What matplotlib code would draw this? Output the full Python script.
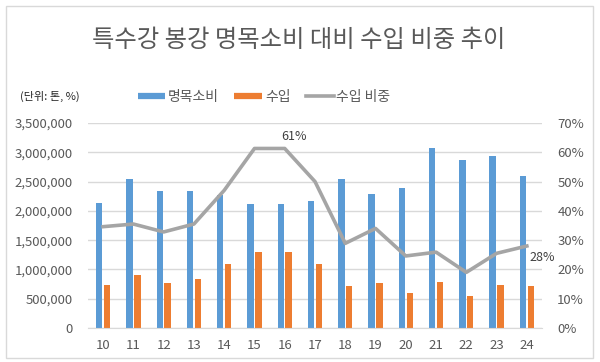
import numpy as np
import matplotlib
matplotlib.use("Agg")
import matplotlib.pyplot as plt
from matplotlib.lines import Line2D
from matplotlib.patches import Rectangle
from matplotlib.ticker import FuncFormatter

plt.rcParams['font.family'] = ['Noto Sans CJK KR', 'DejaVu Sans']

years = ['10', '11', '12', '13', '14', '15', '16', '17', '18', '19', '20', '21', '22', '23', '24']
consumption = [2140000, 2550000, 2340000, 2340000, 2270000, 2110000, 2110000, 2170000,
               2545000, 2295000, 2390000, 3075000, 2865000, 2930000, 2595000]
imports = [740000, 905000, 775000, 838000, 1093000, 1292000, 1292000, 1098000,
           722000, 774000, 592000, 790000, 552000, 739000, 722000]
share = [34.6, 35.5, 32.8, 35.5, 47.0, 61.3, 61.3, 50.0,
         28.9, 34.0, 24.6, 25.9, 19.0, 25.5, 28.0]

blue = '#5B9BD5'
orange = '#ED7D31'
gray = '#A5A5A5'
txt = '#595959'

fig = plt.figure(figsize=(6.0, 3.62), dpi=100)
fig.patches.append(Rectangle((6/600, 1-358/362), 587/600, 352/362, transform=fig.transFigure,
                             fill=False, edgecolor='#D9D9D9', linewidth=1))

ax = fig.add_axes([88/600, 1-328/362, 454/600, 205/362])
x = np.arange(len(years))
w = 0.21
ax.bar(x - 0.13, consumption, w, color=blue, zorder=2)
ax.bar(x + 0.13, imports, w, color=orange, zorder=2)
ax.set_ylim(0, 3500000)
ax.set_yticks(np.arange(0, 3500001, 500000))
ax.yaxis.set_major_formatter(FuncFormatter(lambda v, p: f'{int(v):,}'))
ax.set_xlim(-0.5, len(years) - 0.5)
ax.set_xticks(x)
ax.set_xticklabels(years)
ax.grid(axis='y', color='#D9D9D9', linewidth=1, zorder=0)
for s in ['top', 'left', 'right']:
    ax.spines[s].set_visible(False)
ax.spines['bottom'].set_color('#D9D9D9')
ax.tick_params(axis='both', length=0, labelsize=9.5, colors=txt)
ax.tick_params(axis='y', pad=11)
ax.tick_params(axis='x', pad=8)

ax2 = ax.twinx()
ax2.plot(x, share, color=gray, linewidth=2.6, zorder=3)
ax2.set_ylim(0, 70)
ax2.set_yticks(np.arange(0, 71, 10))
ax2.yaxis.set_major_formatter(FuncFormatter(lambda v, p: f'{int(v)}%'))
for s in ax2.spines.values():
    s.set_visible(False)
ax2.tick_params(axis='y', length=0, labelsize=9.5, colors=txt, pad=11)

ax2.annotate('61%', (x[6], share[6]), xytext=(7, 4), textcoords='offset points',
             ha='center', va='bottom', fontsize=9, color='#404040')
ax2.annotate('28%', (x[14], share[14]), xytext=(2, -8), textcoords='offset points',
             ha='left', va='center', fontsize=9, color='#404040')

fig.text(0.497, 1-40/362, '특수강 봉강 명목소비 대비 수입 비중 추이', ha='center', va='center',
         fontsize=17.5, color=txt)
fig.text(20/600, 1-96/362, '(단위: 톤, %)', ha='left', va='center', fontsize=8, color='#262626')

handles = [Line2D([], [], color=blue, linewidth=4.5, solid_capstyle='butt'),
           Line2D([], [], color=orange, linewidth=4.5, solid_capstyle='butt'),
           Line2D([], [], color=gray, linewidth=2.6)]
fig.legend(handles, ['명목소비', '수입', '수입 비중'], loc='center', bbox_to_anchor=(264/600, 1-97/362),
           ncol=3, frameon=False, fontsize=10, handlelength=2.0, handletextpad=0.2,
           columnspacing=1.1, labelcolor=txt)

fig.savefig('out.png', dpi=100)
